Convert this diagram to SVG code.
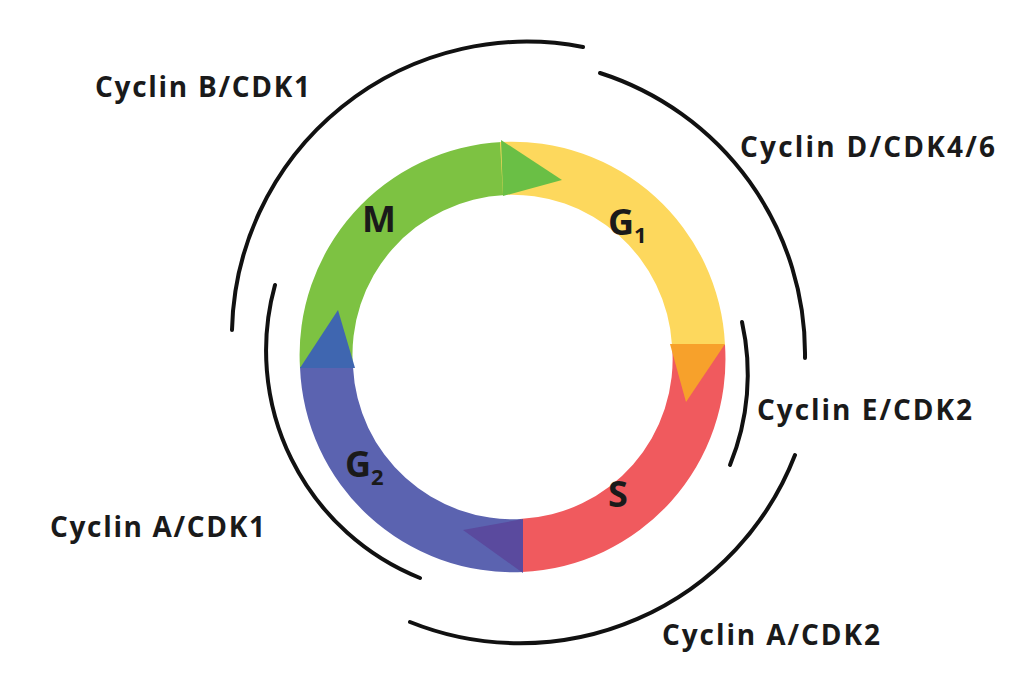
<svg xmlns="http://www.w3.org/2000/svg" width="1023" height="700" viewBox="0 0 1023 700">
<style>
.arc{fill:none;stroke:#111;stroke-width:4;stroke-linecap:round}
.lbl{font-family:"Open Sans","Liberation Sans",sans-serif;font-weight:bold;font-size:28px;fill:#1a1a1a}
.ph{font-family:"Open Sans","Liberation Sans",sans-serif;font-weight:bold;font-size:36px;fill:#1a1a1a}
</style>
<rect width="1023" height="700" fill="#fff"/>
<g id="ring">
<g id="M"><path d="M300,368 A213,213 0 0 1 502,142 L505,195 A160,160 0 0 0 353,368 Z" fill="#7dc242"/>
<text class="ph" x="362" y="232">M</text></g>
<g id="G1"><path d="M500,142 A213,213 0 0 1 725,345 L672,345 A160,160 0 0 0 503,195 Z" fill="#fdd85d"/>
<text class="ph" x="608" y="235">G<tspan font-size="22" dy="8">1</tspan></text></g>
<g id="S"><path d="M725,345 A213,213 0 0 1 522,572 L520,519 A160,160 0 0 0 672,345 Z" fill="#f05a5e"/>
<text class="ph" x="608" y="507">S</text></g>
<g id="G2"><path d="M523,572 A213,213 0 0 1 300,367 L353,367 A160,160 0 0 0 521,519 Z" fill="#5b63b0"/>
<text class="ph" x="345" y="477">G<tspan font-size="22" dy="8">2</tspan></text></g>
<polygon points="501,140 562,180 503,196" fill="#6abf45"/>
<polygon points="670,344 725,344 686,402" fill="#f7a12b"/>
<polygon points="523,519 463,530 523,573" fill="#5a4a9e"/>
<polygon points="300,368 355,368 338,310" fill="#3f66b0"/>
</g>
<g id="connectors">
<path class="arc" d="M583,47 A295,295 0 0 0 232,330"/>
<path class="arc" d="M600,73 A295,295 0 0 1 805,358"/>
<path class="arc" d="M742,322 A240,240 0 0 1 730,465"/>
<path class="arc" d="M795,455 A295,295 0 0 1 410,622"/>
<path class="arc" d="M420,578 A245,245 0 0 1 275,285"/>
</g>
<g id="labels">
<text class="lbl" x="95" y="97" textLength="215">Cyclin B/CDK1</text>
<text class="lbl" x="740" y="157" textLength="255">Cyclin D/CDK4/6</text>
<text class="lbl" x="757" y="420" textLength="215">Cyclin E/CDK2</text>
<text class="lbl" x="50" y="537" textLength="215">Cyclin A/CDK1</text>
<text class="lbl" x="662" y="645" textLength="218">Cyclin A/CDK2</text>
</g>
</svg>
